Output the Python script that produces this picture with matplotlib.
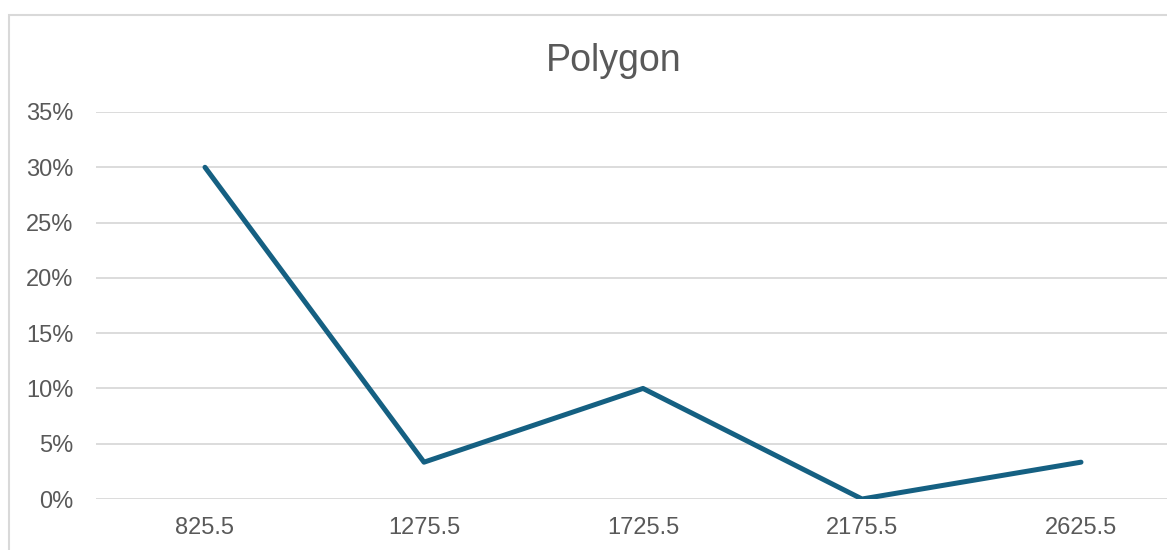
import matplotlib
matplotlib.use("Agg")
import matplotlib.pyplot as plt
from matplotlib.patches import Rectangle
from matplotlib.ticker import FuncFormatter

categories = ["825.5", "1275.5", "1725.5", "2175.5", "2625.5"]
values = [0.30, 0.0333, 0.10, 0.0, 0.0333]
yticks = [0, 0.05, 0.10, 0.15, 0.20, 0.25, 0.30, 0.35]
title = "Polygon"

plt.rcParams['font.family'] = ['Liberation Sans', 'DejaVu Sans']
W, H = 1167, 550
fig = plt.figure(figsize=(W / 100, H / 100), dpi=100)
fig.patch.set_facecolor("white")

# chart border (extends past right/bottom edge as in reference)
fig.patches.append(Rectangle((9 / W, -0.1), 1.2, 1.1 - 15 / H, transform=fig.transFigure,
                             fill=False, edgecolor="#d9d9d9", linewidth=1.5, zorder=0))

left = 95.5 / W
right = 1190.5 / W
bottom = 1 - 499 / H
top = 1 - 112 / H
ax = fig.add_axes([left, bottom, right - left, top - bottom])
ax.set_facecolor("none")

x = list(range(len(categories)))
ax.plot(x, values, color="#156082", linewidth=3.6, solid_capstyle="round",
        solid_joinstyle="round", zorder=3)

ax.set_xlim(-0.5, len(categories) - 0.5)
ax.set_ylim(0, 0.35)
ax.set_yticks(yticks)
ax.yaxis.set_major_formatter(FuncFormatter(lambda v, p: f"{round(v * 100)}%"))
ax.set_xticks(x)
ax.set_xticklabels(categories)
ax.grid(axis="y", color="#d9d9d9", linewidth=1.3, zorder=0)
ax.set_axisbelow(True)
for s in ax.spines.values():
    s.set_visible(False)
ax.tick_params(axis="both", length=0, labelsize=17, colors="#595959")
ax.tick_params(axis="y", pad=16)
ax.tick_params(axis="x", pad=13)

fig.text(614 / W, 1 - 61 / H, title, ha="center", va="center", fontsize=27, color="#595959")

fig.savefig("out.png", dpi=100)
